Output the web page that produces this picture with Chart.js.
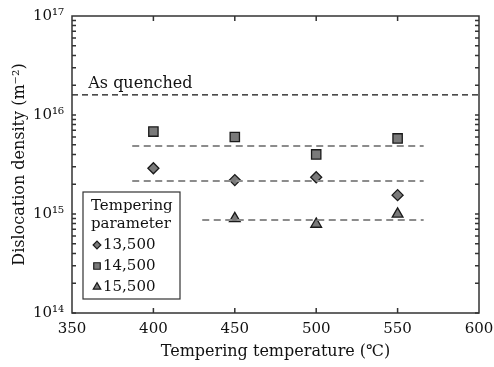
<!DOCTYPE html>
<html>
<head>
<meta charset="utf-8">
<script src="https://cdn.jsdelivr.net/npm/chart.js@4"></script>
<style>
  html, body { margin: 0; padding: 0; background: #fff; }
  #wrap { width: 494px; height: 367px; }
</style>
</head>
<body>
<div id="wrap"><canvas id="dd"></canvas></div>
<script>
// tempering temperature (°C) and dislocation density (m^-2)
const temps = [400, 450, 500, 550];
const seriesNames = ['13,500', '14,500', '15,500'];
const tp13500 = [2.9e15, 2.2e15, 2.35e15, 1.55e15];
const tp14500 = [6.8e15, 6.0e15, 4.0e15, 5.8e15];
const tp15500 = [null, 9.0e14, 7.9e14, 1.0e15];
const asQuenched = 1.6e16;
// average level per parameter and the temperature range it covers
const meanLevels = [2.15e15, 4.85e15, 8.7e14];
const meanFrom = [387, 387, 430];
const meanTo = [566, 566, 566];
const xTicks = [350, 400, 450, 500, 550, 600];

const SERIF = '"DejaVu Serif", "Liberation Serif", serif';
const sup = { '0':'⁰','1':'¹','2':'²','3':'³','4':'⁴','5':'⁵','6':'⁶','7':'⁷','8':'⁸','9':'⁹' };
const pow10 = e => '10' + String(e).split('').map(c => sup[c]).join('');

const pts = vals => temps.map((t, i) => ({ x: t, y: vals[i] })).filter(p => p.y != null);
const styles = ['rectRot', 'rect', 'triangle'];
const radii = [5.5, 6.6, 6.2];

const markerSets = [tp13500, tp14500, tp15500].map((v, i) => ({
  type: 'scatter',
  label: seriesNames[i],
  data: pts(v),
  pointStyle: styles[i],
  pointRadius: radii[i],
  backgroundColor: '#7a7a7a',
  borderColor: '#1a1a1a',
  borderWidth: 1.3,
  isMarker: true
}));

const levelSets = meanLevels.map((lv, i) => ({
  type: 'line',
  data: [{ x: meanFrom[i], y: lv }, { x: meanTo[i], y: lv }],
  borderColor: '#8c8c8c',
  borderWidth: 2,
  borderDash: [7, 4.5],
  pointRadius: 0
}));

const quenchSet = {
  type: 'line',
  data: [{ x: 350, y: asQuenched }, { x: 600, y: asQuenched }],
  borderColor: '#111',
  borderWidth: 1.2,
  borderDash: [6, 4],
  pointRadius: 0
};

const frame = {
  id: 'frame',
  afterDraw(chart) {
    const { ctx, chartArea: a, scales } = chart;
    const xs = scales.x, ys = scales.y;
    ctx.save();
    ctx.strokeStyle = '#333';
    ctx.lineWidth = 1.5;
    ctx.strokeRect(a.left, a.top, a.right - a.left, a.bottom - a.top);
    ctx.beginPath();
    // inward x ticks top and bottom
    xTicks.slice(1, -1).forEach(v => {
      const px = xs.getPixelForValue(v);
      ctx.moveTo(px, a.top); ctx.lineTo(px, a.top + 5);
      ctx.moveTo(px, a.bottom); ctx.lineTo(px, a.bottom - 5);
    });
    // inward y ticks (log minor) left and right
    for (let e = 14; e < 17; e++) {
      for (let k = 1; k <= 9; k++) {
        const py = ys.getPixelForValue(k * Math.pow(10, e));
        ctx.moveTo(a.left, py); ctx.lineTo(a.left + 4, py);
        ctx.moveTo(a.right, py); ctx.lineTo(a.right - 4, py);
      }
    }
    ctx.stroke();

    // "As quenched" label
    ctx.fillStyle = '#111';
    ctx.font = '16px ' + SERIF;
    ctx.textBaseline = 'alphabetic';
    ctx.textAlign = 'left';
    ctx.fillText('As quenched', xs.getPixelForValue(360), ys.getPixelForValue(asQuenched) - 7);

    // boxed legend inside plot
    const bx = 83, by = 192, bw = 97, bh = 107;
    ctx.fillStyle = '#fff';
    ctx.fillRect(bx, by, bw, bh);
    ctx.strokeStyle = '#333';
    ctx.lineWidth = 1.2;
    ctx.strokeRect(bx, by, bw, bh);
    ctx.fillStyle = '#111';
    ctx.font = '15px ' + SERIF;
    ctx.textBaseline = 'middle';
    ctx.fillText('Tempering', bx + 8, by + 14);
    ctx.fillText('parameter', bx + 8, by + 32);
    chart.data.datasets.filter(d => d.isMarker).forEach((d, i) => {
      const cy = by + 53 + i * 21;
      ctx.fillStyle = d.backgroundColor;
      ctx.strokeStyle = d.borderColor;
      ctx.lineWidth = 1.2;
      Chart.helpers.drawPoint(ctx, {
        pointStyle: d.pointStyle, radius: d.pointRadius * 0.7, rotation: 0, borderWidth: 1.2
      }, bx + 14, cy);
      ctx.fillStyle = '#111';
      ctx.fillText(d.label, bx + 20, cy);
    });
    ctx.restore();
  }
};

new Chart(document.getElementById('dd'), {
  data: { datasets: [quenchSet, ...levelSets, ...markerSets] },
  options: {
    responsive: true,
    maintainAspectRatio: false,
    animation: false,
    layout: { padding: { top: 16, right: 15, left: 0, bottom: 0 } },
    plugins: { legend: { display: false }, tooltip: { enabled: false } },
    scales: {
      x: {
        type: 'linear',
        min: 350, max: 600,
        afterBuildTicks: s => { s.ticks = xTicks.map(v => ({ value: v })); },
        afterFit: s => { s.height = 54; s.paddingLeft = 0; s.paddingRight = 0; },
        grid: { display: false, drawTicks: false },
        border: { display: false },
        ticks: { color: '#111', font: { family: SERIF, size: 15 }, padding: 7, maxRotation: 0 },
        title: { display: true, text: 'Tempering temperature (℃)', color: '#111',
                 font: { family: SERIF, size: 16 }, padding: { top: 0, bottom: 6 } }
      },
      y: {
        type: 'logarithmic',
        min: 1e14, max: 1e17,
        afterFit: s => { s.width = 72; s.paddingTop = 0; s.paddingBottom = 0; },
        grid: { display: false, drawTicks: false },
        border: { display: false },
        ticks: {
          color: '#111', font: { family: SERIF, size: 15 }, padding: 8, autoSkip: false,
          callback: v => {
            const e = Math.log10(v);
            return Math.abs(e - Math.round(e)) < 1e-9 ? pow10(Math.round(e)) : '';
          }
        },
        title: { display: true, text: 'Dislocation density (m⁻²)', color: '#111',
                 font: { family: SERIF, size: 16 }, padding: { top: 10, bottom: 0 } }
      }
    }
  },
  plugins: [frame]
});
</script>
</body>
</html>
